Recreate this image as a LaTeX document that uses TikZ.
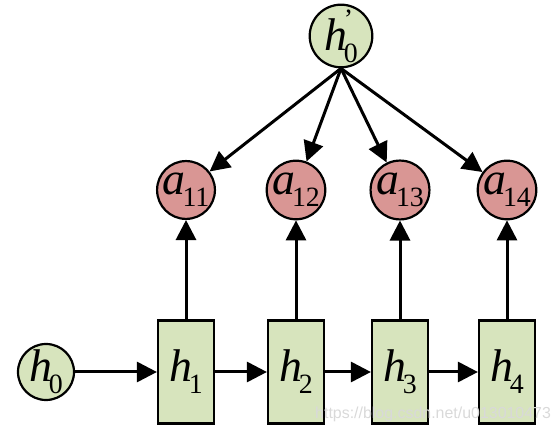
\documentclass[tikz,border=0pt]{standalone}
\usepackage{fontspec}
\setmainfont{Liberation Serif}
\newfontfamily\wmfont{Liberation Sans}
\usetikzlibrary{arrows.meta}
\definecolor{hgreen}{RGB}{215,228,189}
\definecolor{ared}{RGB}{217,150,148}
\newcommand{\subfont}{\fontsize{28}{28}\selectfont}
\newcommand{\vlab}[3]{{\fontsize{46}{46}\selectfont\itshape #1}\kern-3bp\makebox[0pt][l]{\raisebox{22bp}{\subfont #3}}\raisebox{-12bp}{\subfont #2}}
\begin{document}
\begin{tikzpicture}[x=1bp,y=1bp,
  circ/.style={circle,draw=black,line width=2.2bp,minimum size=56bp,inner sep=0pt},
  gcirc/.style={circ,fill=hgreen},
  rcirc/.style={circ,fill=ared},
  hbox/.style={rectangle,draw=black,line width=2.2bp,fill=hgreen,minimum width=56bp,minimum height=103bp,inner sep=0pt},
  conn/.style={line width=3bp,-{Triangle[length=20bp,width=20bp]}}]
\useasboundingbox (0,0) rectangle (559,437);
\node[gcirc] (hp) at (341,401) {\vlab{h}{0}{'}};
\node[rcirc] (a1) at (186,247) {\vlab{a}{11}{}};
\node[rcirc] (a2) at (296,247) {\vlab{a}{12}{}};
\node[rcirc] (a3) at (400,247) {\vlab{a}{13}{}};
\node[rcirc] (a4) at (507,247) {\vlab{a}{14}{}};
\node[gcirc] (h0) at (46,65) {\vlab{h}{0}{}};
\node[hbox] (h1) at (186,65) {\vlab{h}{1}{}};
\node[hbox] (h2) at (296,65) {\vlab{h}{2}{}};
\node[hbox] (h3) at (400,65) {\vlab{h}{3}{}};
\node[hbox] (h4) at (507,65) {\vlab{h}{4}{}};
\foreach \i in {1,2,3,4}{
  \draw[conn] (hp.south) -- (a\i);
  \draw[conn] (h\i.north) -- (a\i.south);
}
\draw[conn] (h0) -- (h1);
\draw[conn] (h1) -- (h2);
\draw[conn] (h2) -- (h3);
\draw[conn] (h3) -- (h4);
\node[anchor=base west,text=gray!30,font=\wmfont\fontsize{16}{16}\selectfont,inner sep=0pt] (wm) at (315,18) {https://blog.csdn.net/u013010473};
\end{tikzpicture}
\end{document}
